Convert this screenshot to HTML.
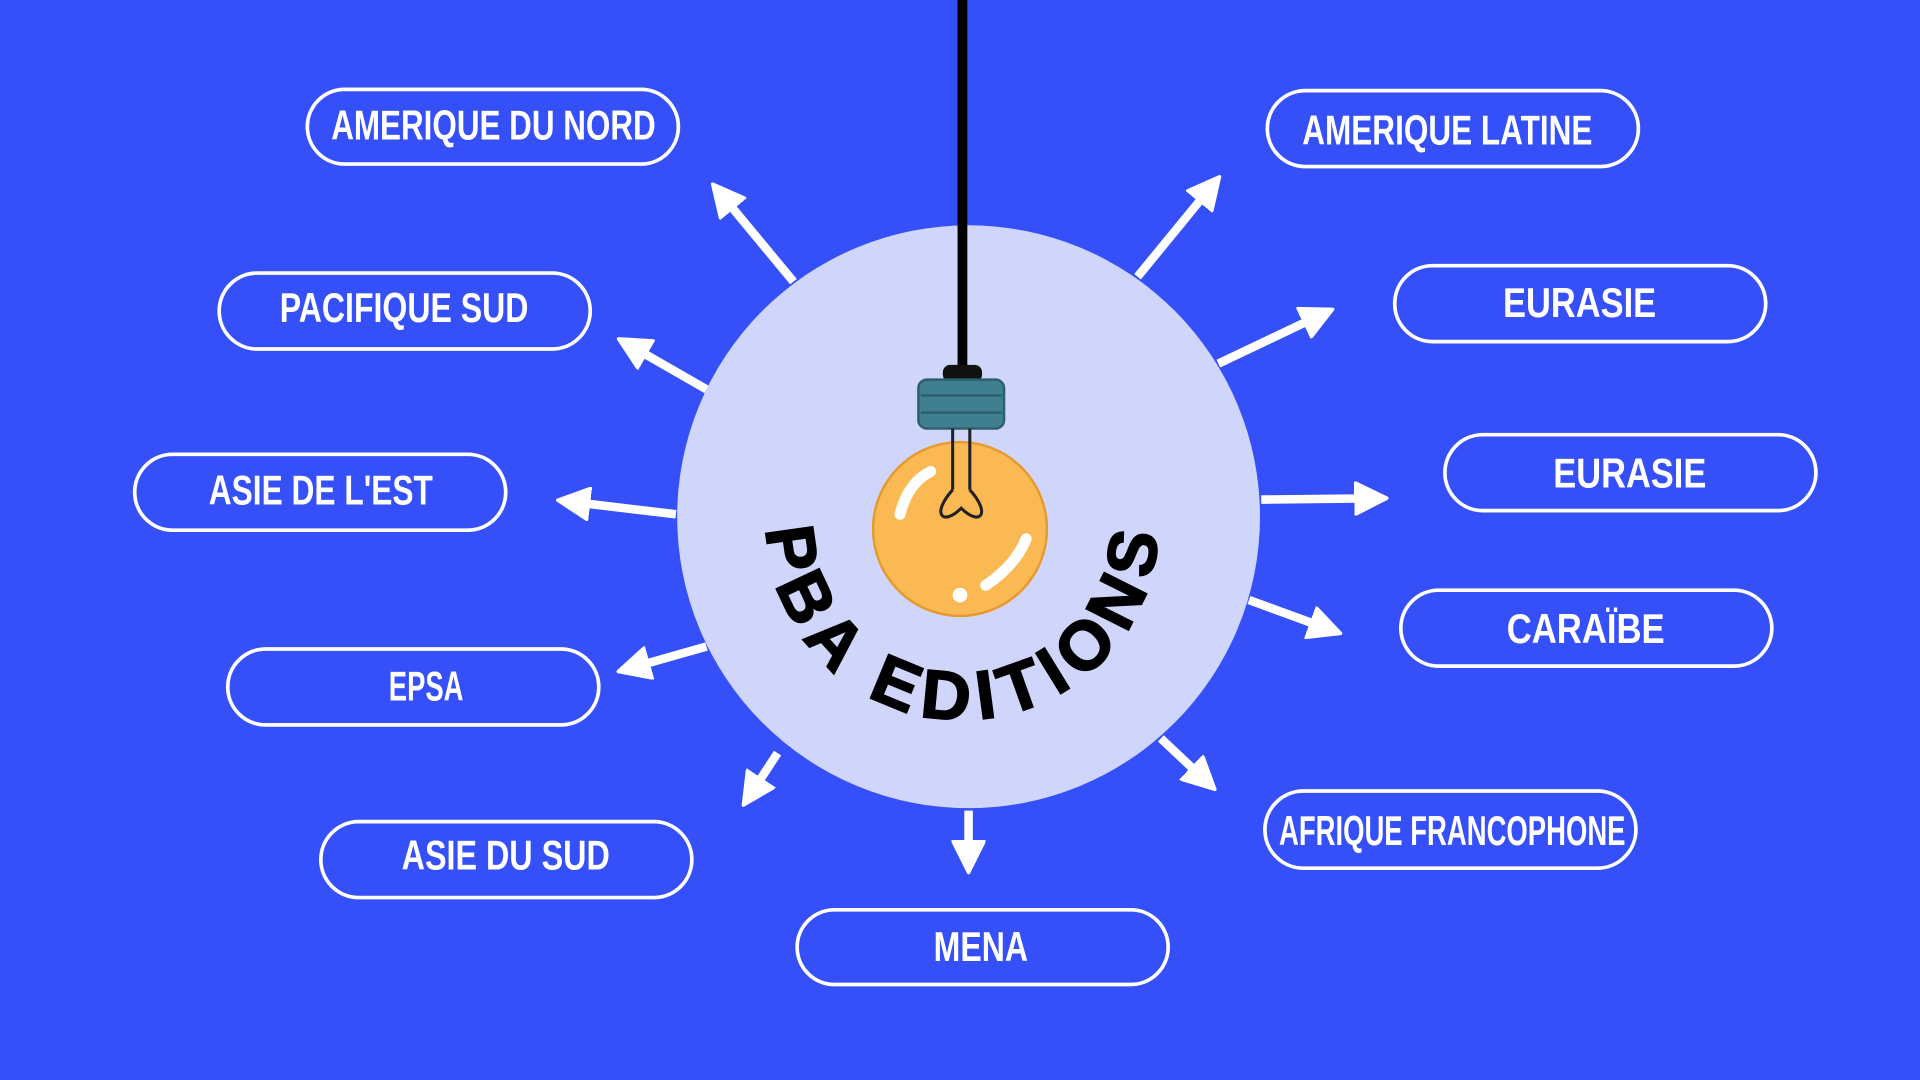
<!DOCTYPE html>
<html><head><meta charset="utf-8"><style>
html,body{margin:0;padding:0;width:1920px;height:1080px;overflow:hidden;background:#3650f9}
svg{display:block}
.t{font-family:"Liberation Sans",sans-serif;font-weight:bold;font-size:34px;fill:#fff;text-anchor:middle}
</style></head><body>
<svg width="1920" height="1080" viewBox="0 0 1568 882" xmlns="http://www.w3.org/2000/svg">
<defs>
<marker id="a" markerWidth="4" markerHeight="4" refX="2" refY="2" orient="auto" markerUnits="strokeWidth">
<path d="M0,0.1 L3.8,2 L0,3.9 Z" fill="#fff" stroke="#fff" stroke-width="0.4" stroke-linejoin="round"/>
</marker>
</defs>
<rect width="1568" height="882" fill="#3650f9"/>
<g stroke="#fff" stroke-width="7" marker-end="url(#a)" fill="none">
<line x1="648" y1="230" x2="590" y2="160"/>
<line x1="577" y1="318" x2="516" y2="283"/>
<line x1="552" y1="420" x2="468" y2="410"/>
<line x1="577" y1="528" x2="517" y2="545"/>
<line x1="635" y1="615" x2="614" y2="647"/>
<line x1="791" y1="662" x2="791" y2="700"/>
<line x1="948" y1="603" x2="983" y2="636"/>
<line x1="1020" y1="490" x2="1083" y2="513"/>
<line x1="1030" y1="408" x2="1120" y2="407"/>
<line x1="995" y1="297" x2="1077" y2="258"/>
<line x1="929" y1="226" x2="988" y2="154"/>
</g>
<circle cx="791" cy="422" r="238" fill="#cfd5fb"/>
<line x1="786" y1="0" x2="786" y2="305" stroke="#000" stroke-width="8"/>
<rect x="770" y="298" width="32" height="14" rx="6" fill="#111"/>
<circle cx="784" cy="432" r="71" fill="#fbb954" stroke="#e59a2e" stroke-width="2"/>
<rect x="750" y="310" width="70" height="40" rx="7" fill="#3f7f8f" stroke="#2d5f6c" stroke-width="2"/>
<path d="M752 323 H818 M752 337 H818" stroke="#2d5f6c" stroke-width="2"/>
<path d="M778 350 L778 400 M792 350 L792 400" stroke="#222" stroke-width="2.5" fill="none"/>
<path d="M778 400 C760 420 770 430 785 415 C800 430 810 420 792 400" stroke="#222" stroke-width="2.5" fill="none"/>
<path d="M735 420 C740 400 750 390 760 385" stroke="#fff" stroke-width="9" stroke-linecap="round" fill="none"/>
<path d="M805 478 C820 468 832 455 838 440" stroke="#fff" stroke-width="9" stroke-linecap="round" fill="none"/>
<circle cx="784" cy="486" r="6" fill="#fff"/>
<path id="arc" d="M 626 428 A 160 160 0 0 0 946 428" fill="none"/>
<text font-family="'Liberation Sans',sans-serif" font-weight="bold" font-size="56" fill="#000" stroke="#000" stroke-width="1.5"><textPath href="#arc" startOffset="4" textLength="490" lengthAdjust="spacing">PBA EDITIONS</textPath></text>
<g fill="none" stroke="#fff" stroke-width="3">
<rect x="251" y="73" width="303" height="61" rx="30.5"/>
<rect x="1035" y="74" width="303" height="62" rx="31"/>
<rect x="179" y="223" width="303" height="62" rx="31"/>
<rect x="1139" y="217" width="303" height="62" rx="31"/>
<rect x="110" y="371" width="303" height="62" rx="31"/>
<rect x="1180" y="355" width="303" height="62" rx="31"/>
<rect x="186" y="530" width="303" height="62" rx="31"/>
<rect x="1144" y="482" width="303" height="62" rx="31"/>
<rect x="262" y="671" width="303" height="62" rx="31"/>
<rect x="1033" y="646" width="303" height="63" rx="31.5"/>
<rect x="651" y="743" width="303" height="61" rx="30.5"/>
</g>
<g class="t">
<text class="t" x="403" y="114" textLength="265" lengthAdjust="spacingAndGlyphs">AMERIQUE DU NORD</text>
<text class="t" x="1182" y="118" textLength="237" lengthAdjust="spacingAndGlyphs">AMERIQUE LATINE</text>
<text class="t" x="330" y="263" textLength="203" lengthAdjust="spacingAndGlyphs">PACIFIQUE SUD</text>
<text class="t" x="1290" y="259" textLength="125" lengthAdjust="spacingAndGlyphs">EURASIE</text>
<text class="t" x="262" y="412" textLength="183" lengthAdjust="spacingAndGlyphs">ASIE DE L'EST</text>
<text class="t" x="1331" y="398" textLength="125" lengthAdjust="spacingAndGlyphs">EURASIE</text>
<text class="t" x="348" y="572" textLength="61" lengthAdjust="spacingAndGlyphs">EPSA</text>
<text class="t" x="1295" y="525" textLength="129" lengthAdjust="spacingAndGlyphs">CARAÏBE</text>
<text class="t" x="413" y="710" textLength="170" lengthAdjust="spacingAndGlyphs">ASIE DU SUD</text>
<text class="t" x="1186" y="690" textLength="283" lengthAdjust="spacingAndGlyphs">AFRIQUE FRANCOPHONE</text>
<text class="t" x="801" y="785" textLength="77" lengthAdjust="spacingAndGlyphs">MENA</text>
</g>
</svg>
</body></html>
